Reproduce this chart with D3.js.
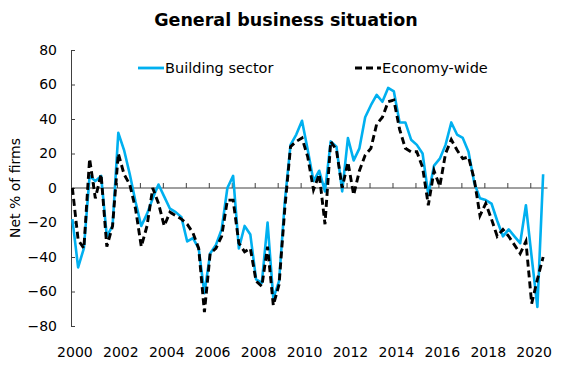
<!DOCTYPE html>
<html>
<head>
<meta charset="utf-8">
<script src="https://cdn.jsdelivr.net/npm/d3@7"></script>
<style>
  body { margin: 0; background: #fff; }
  svg text { font-family: "DejaVu Sans", sans-serif; fill: #000; }
</style>
</head>
<body>
<svg id="chart" width="584" height="365"></svg>
<script>
// quarterly, 2000 Q1 .. 2020 Q3
const startYear = 2000;
const building = [
  -18, -46, -35, 7,   4, 7, -28, -22,   32, 22, 8, -8,   -22, -15, -6, 2,
  -5, -12, -14, -17,  -31, -29, -35, -61,  -38, -33, -24, 0,  7, -35, -22, -27,
  -53, -55, -20, -64, -54, -8, 25, 31,   39, 22, 4, 10,   -2, 27, 24, -2,
  29, 16, 23, 41,   48, 54, 50, 58,   56, 38, 38, 28,   25, 20, -4, 13,
  17, 25, 38, 31,   29, 21, 3, -6,   -7, -9, -19, -28,  -24, -28, -32, -10,
  -40, -69, 8
];
const economy = [
  0, -30, -35, 17,   -6, 8, -34, -22,   20, 8, 2, -12,   -34, -22, 0, -9,
  -22, -14, -16, -18,  -21, -26, -35, -72,  -38, -35, -28, -7,  -7, -32, -37, -35,
  -54, -57, -34, -68,  -56, -12, 24, 27,   29, 18, -1, 8,   -21, 27, 22, 0,
  15, -4, 10, 19,   23, 37, 41, 50,   51, 34, 23, 21,   21, 12, -10, 10,
  1, 20, 28, 22,   17, 18, 5, -16,   -9, -18, -28, -24,  -28, -33, -38, -31,
  -67, -53, -40
];
const yTicks = [80, 60, 40, 20, 0, -20, -40, -60, -80];
const yearLabels = [2000, 2002, 2004, 2006, 2008, 2010, 2012, 2014, 2016, 2018, 2020];
const seriesNames = ['Building sector', 'Economy-wide'];

const svg = d3.select('#chart');
const axisColor = '#404040';

const x = d3.scaleLinear().domain([2000, 2020.75]).range([71, 547.5]);
const y = d3.scaleLinear().domain([-80, 80]).range([326, 50]);

const t = i => startYear + i / 4 + 0.06;

// title
svg.append('text')
  .attr('x', 286).attr('y', 26)
  .attr('text-anchor', 'middle')
  .attr('font-size', 17.5).attr('font-weight', 'bold')
  .text('General business situation');

// y axis
const yAxis = d3.axisLeft(y).tickValues(yTicks).tickSize(-4).tickPadding(14);
const gy = svg.append('g').attr('transform', `translate(${x(2000)},0)`).call(yAxis);
gy.select('.domain').attr('stroke', axisColor);
gy.selectAll('.tick line').attr('stroke', axisColor);
gy.selectAll('.tick text').attr('font-size', 14).attr('font-family', '"DejaVu Sans", sans-serif').attr('fill', '#000');

svg.append('text')
  .attr('transform', `translate(20,${y(0)}) rotate(-90)`)
  .attr('text-anchor', 'middle')
  .attr('font-size', 14)
  .text('Net % of firms');

// x axis along zero
const xAxis = d3.axisTop(x).tickValues(d3.range(2000, 2021)).tickSize(5).tickFormat('');
const gx = svg.append('g').attr('transform', `translate(0,${y(0)})`).call(xAxis);
gx.select('.domain').attr('stroke', axisColor).attr('d', `M${x(2000)},0H${x(2020.75)}`);
gx.selectAll('.tick line').attr('stroke', axisColor);

svg.append('g').selectAll('text')
  .data(yearLabels)
  .enter().append('text')
  .attr('x', d => x(d + 0.17))
  .attr('y', 357)
  .attr('text-anchor', 'middle')
  .attr('font-size', 14)
  .text(d => d);

// lines
const line = d3.line().x((d, i) => x(t(i))).y(d => y(d));

svg.append('path')
  .datum(building)
  .attr('d', line)
  .attr('fill', 'none')
  .attr('stroke', '#00b0f0')
  .attr('stroke-width', 2.6)
  .attr('stroke-linejoin', 'round');

svg.append('path')
  .datum(economy)
  .attr('d', line)
  .attr('fill', 'none')
  .attr('stroke', '#000')
  .attr('stroke-width', 2.9)
  .attr('stroke-dasharray', '7,4');

// legend
const legend = [
  { name: seriesNames[0], x0: 138, color: '#00b0f0', dash: null },
  { name: seriesNames[1], x0: 355, color: '#000', dash: '7,4' }
];
const lg = svg.append('g').selectAll('g').data(legend).enter().append('g')
  .attr('transform', d => `translate(${d.x0},68)`);
lg.append('line')
  .attr('x1', 0).attr('x2', 26).attr('y1', 0).attr('y2', 0)
  .attr('stroke', d => d.color).attr('stroke-width', 2.8)
  .attr('stroke-dasharray', d => d.dash);
lg.append('text')
  .attr('x', 27).attr('y', 5)
  .attr('font-size', 14.5)
  .text(d => d.name);
</script>
</body>
</html>
